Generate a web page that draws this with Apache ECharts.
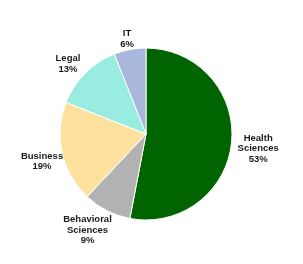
<!DOCTYPE html>
<html>
<head>
<meta charset="utf-8">
<script src="https://cdn.jsdelivr.net/npm/echarts@6/dist/echarts.min.js"></script>
<style>
  html, body { margin: 0; padding: 0; background: #fff; }
  #chart { width: 303px; height: 264px; }
</style>
</head>
<body>
<div id="chart"></div>
<script>
// pie data, clockwise from 12 o'clock
const categories = ['Health Sciences', 'Behavioral Sciences', 'Business', 'Legal', 'IT']
const shares = [53, 9, 19, 13, 6]
const colors = ['#006400', '#b2b2b2', '#fee09f', '#98ece0', '#a9b7dc']

const cx = 146
const cy = 134
const radius = 86
const total = shares.reduce((a, b) => a + b, 0)

// put each label just outside its slice, box pushed away from the pie
function labelPos(params) {
  const i = params.dataIndex
  let before = 0
  for (let k = 0; k < i; k++) before += shares[k]
  const mid = (before + shares[i] / 2) / total * Math.PI * 2
  const dx = Math.sin(mid)
  const dy = -Math.cos(mid)
  const r = radius + 4
  const w = params.labelRect.width
  const h = params.labelRect.height
  const clamp = v => Math.max(-1, Math.min(1, v * 1.6))
  // small nudges so the labels sit like the excel ones
  let sx = 0
  let sy = 0
  if (dy < 0.5) {
    sy = 4
    if (dx < -0.9) sx = 5
    else if (Math.abs(dx) > 0.3) sx = dx > 0 ? 2 : -2
  }
  return {
    x: cx + dx * r + clamp(dx) * w / 2 + sx,
    y: cy + dy * r + clamp(dy) * h / 2 + sy,
    align: 'center',
    verticalAlign: 'middle'
  }
}

const chart = echarts.init(document.getElementById('chart'))
chart.setOption({
  animation: false,
  series: [{
    type: 'pie',
    center: [cx, cy],
    radius: radius,
    startAngle: 90,
    clockwise: true,
    itemStyle: {
      borderColor: '#fff',
      borderWidth: 1
    },
    label: {
      show: true,
      position: 'outside',
      overflow: 'none',
      fontFamily: 'Liberation Sans',
      fontWeight: 'bold',
      fontSize: 9.5,
      lineHeight: 10.5,
      color: '#1a1a1a',
      formatter: p => p.name.replace(' ', '\n') + '\n' + Math.round(p.percent) + '%'
    },
    labelLine: { show: false },
    labelLayout: labelPos,
    emphasis: { disabled: true },
    data: categories.map((name, i) => ({
      name: name,
      value: shares[i],
      itemStyle: { color: colors[i] }
    }))
  }]
})
</script>
</body>
</html>
